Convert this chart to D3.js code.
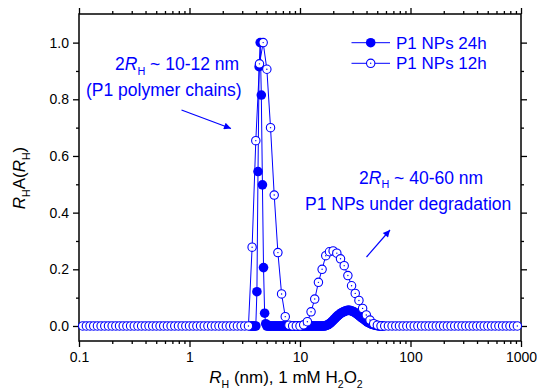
<!DOCTYPE html>
<html>
<head>
<meta charset="utf-8">
<script src="https://cdn.jsdelivr.net/npm/d3@7"></script>
<style>
  html, body { margin: 0; padding: 0; background: #fff; }
  svg { display: block; font-family: "Liberation Sans", Arial, sans-serif; }
</style>
</head>
<body>
<svg id="chart" width="537" height="389"></svg>
<script>
// Hydrodynamic radius bins (nm) and size distributions R_H·A(R_H)

// 12 h sample: 30 bins per decade
const radius12h = [
  0.108, 0.1166, 0.1259, 0.1359, 0.1468, 0.1585, 0.1711, 0.1848, 0.1995, 0.2154,
  0.2326, 0.2512, 0.2712, 0.2929, 0.3162, 0.3415, 0.3687, 0.3981, 0.4299, 0.4642,
  0.5012, 0.5412, 0.5843, 0.631, 0.6813, 0.7356, 0.7943, 0.8577, 0.9261,
  1, 1.08, 1.166, 1.259, 1.359, 1.468, 1.585, 1.711, 1.848, 1.995,
  2.154, 2.326, 2.512, 2.712, 2.929, 3.162, 3.415, 3.687, 3.981, 4.299,
  4.642, 5.012, 5.412, 5.843, 6.31, 6.813, 7.356, 7.943, 8.577, 9.261,
  10, 10.8, 11.66, 12.59, 13.59, 14.68, 15.85, 17.11, 18.48, 19.95,
  21.54, 23.26, 25.12, 27.12, 29.29, 31.62, 34.15, 36.87, 39.81, 42.99,
  46.42, 50.12, 54.12, 58.43, 63.1, 68.13, 73.56, 79.43, 85.77, 92.61,
  100, 108, 116.6, 125.9, 135.9, 146.8, 158.5, 171.1, 184.8, 199.5,
  215.4, 232.6, 251.2, 271.2, 292.9, 316.2, 341.5, 368.7, 398.1, 429.9,
  464.2, 501.2, 541.2, 584.3, 631, 681.3, 735.6, 794.3, 857.7, 926.1
];
const values12h = [
  0, 0, 0, 0, 0, 0, 0, 0, 0, 0,
  0, 0, 0, 0, 0, 0, 0, 0, 0, 0,
  0, 0, 0, 0, 0, 0, 0, 0, 0, 0,
  0, 0, 0, 0, 0, 0, 0, 0, 0, 0,
  0, 0, 0, 0, 0, 0, 0.278, 0.654, 0.925, 1.0,
  0.906, 0.70, 0.462, 0.259, 0.113, 0.033, 0.003, 0, 0, 0,
  0.004, 0.015, 0.05, 0.095, 0.154, 0.20, 0.248, 0.262, 0.265, 0.257,
  0.237, 0.213, 0.178, 0.142, 0.115, 0.09, 0.062, 0.039, 0.021, 0.008,
  0.003, 0, 0, 0, 0, 0, 0, 0, 0, 0,
  0, 0, 0, 0, 0, 0, 0, 0, 0, 0,
  0, 0, 0, 0, 0, 0, 0, 0, 0, 0,
  0, 0, 0, 0, 0, 0, 0, 0, 0
];

// 24 h sample: 100 bins per decade, 3.5 – 56 nm
const radius24h = [
  3.548, 3.631, 3.715, 3.802, 3.890, 3.981, 4.074, 4.169, 4.266, 4.365,
  4.467, 4.571, 4.677, 4.786, 4.898, 5.012, 5.129, 5.248, 5.370, 5.495,
  5.623, 5.754, 5.888, 6.026, 6.166, 6.310, 6.457, 6.607, 6.761, 6.918,
  7.079, 7.244, 7.413, 7.586, 7.762, 7.943, 8.128, 8.318, 8.511, 8.710,
  8.913, 9.120, 9.333, 9.550, 9.772, 10.00, 10.23, 10.47, 10.72, 10.96,
  11.22, 11.48, 11.75, 12.02, 12.30, 12.59, 12.88, 13.18, 13.49, 13.80,
  14.13, 14.45, 14.79, 15.14, 15.49, 15.85, 16.22, 16.60, 16.98, 17.38,
  17.78, 18.20, 18.62, 19.05, 19.50, 19.95, 20.42, 20.89, 21.38, 21.88,
  22.39, 22.91, 23.44, 23.99, 24.55, 25.12, 25.70, 26.30, 26.92, 27.54,
  28.18, 28.84, 29.51, 30.20, 30.90, 31.62, 32.36, 33.11, 33.88, 34.67,
  35.48, 36.31, 37.15, 38.02, 38.90, 39.81, 40.74, 41.69, 42.66, 43.65,
  44.67, 45.71, 46.77, 47.86, 48.98, 50.12, 51.29, 52.48, 53.70, 54.95,
  56.23
];
const values24h = [
  0, 0, 0, 0, 0, 0, 0.121, 0.545, 0.915, 1.0,
  0.815, 0.498, 0.206, 0.045, 0.008, 0, 0, 0, 0, 0,
  0, 0, 0, 0, 0, 0, 0, 0, 0, 0,
  0, 0, 0, 0, 0, 0, 0, 0, 0, 0,
  0, 0, 0, 0, 0, 0, 0, 0, 0, 0,
  0, 0, 0, 0, 0, 0, 0, 0, 0, 0,
  0, 0, 0, 0, 0, 0, 0, 0, 0.001, 0.002,
  0.004, 0.006, 0.009, 0.012, 0.016, 0.020, 0.024, 0.028, 0.032, 0.036,
  0.039, 0.042, 0.045, 0.047, 0.049, 0.051, 0.053, 0.054, 0.055, 0.055,
  0.055, 0.054, 0.053, 0.051, 0.049, 0.047, 0.044, 0.041, 0.038, 0.035,
  0.032, 0.029, 0.026, 0.023, 0.020, 0.017, 0.014, 0.012, 0.010, 0.008,
  0.006, 0.005, 0.004, 0.003, 0.002, 0.001, 0.001, 0, 0, 0,
  0
];

const seriesNames = ["P1 NPs 24h", "P1 NPs 12h"];
const xTickValues = [0.1, 1, 10, 100, 1000];
const xTickLabels = ["0.1", "1", "10", "100", "1000"];
const yTickValues = [0.0, 0.2, 0.4, 0.6, 0.8, 1.0];
const yTickLabels = ["0.0", "0.2", "0.4", "0.6", "0.8", "1.0"];
const yMinorValues = [0.1, 0.3, 0.5, 0.7, 0.9];

const BLUE = "#0000ff";
const svg = d3.select("#chart");
const plotLeft = 79, plotRight = 521, plotTop = 14, plotBottom = 341;

const x = d3.scaleLog().domain([0.1, 1000]).range([plotLeft, plotRight]);
const y = d3.scaleLinear().domain([-0.053, 1.101]).range([plotBottom, plotTop]);

// minor log ticks 2..9 in each decade
const xMinorValues = [];
[0.1, 1, 10, 100].forEach(d => { for (let m = 2; m <= 9; m++) xMinorValues.push(+(d * m).toPrecision(3)); });

// ---- axes (mirrored, ticks outward on every side)
function drawAxis(axisGen, tx, ty, cls) {
  const g = svg.append("g").attr("class", cls).attr("transform", `translate(${tx},${ty})`).call(axisGen);
  g.select(".domain").remove();
  g.selectAll("line").attr("stroke", "#000").attr("stroke-width", 1.3);
  g.selectAll("text").attr("fill", "#000").attr("font-size", 14)
    .attr("font-family", "'Liberation Sans', Arial, sans-serif");
  return g;
}
drawAxis(d3.axisBottom(x).tickValues(xTickValues).tickFormat((d, i) => xTickLabels[i]).tickSize(6).tickPadding(5), 0, plotBottom, "xb");
drawAxis(d3.axisBottom(x).tickValues(xMinorValues).tickFormat("").tickSize(3), 0, plotBottom, "xbm");
drawAxis(d3.axisTop(x).tickValues(xTickValues).tickFormat("").tickSize(6), 0, plotTop, "xt");
drawAxis(d3.axisTop(x).tickValues(xMinorValues).tickFormat("").tickSize(3), 0, plotTop, "xtm");
drawAxis(d3.axisLeft(y).tickValues(yTickValues).tickFormat((d, i) => yTickLabels[i]).tickSize(6).tickPadding(4), plotLeft, 0, "yl");
drawAxis(d3.axisLeft(y).tickValues(yMinorValues).tickFormat("").tickSize(3), plotLeft, 0, "ylm");
drawAxis(d3.axisRight(y).tickValues(yTickValues).tickFormat("").tickSize(6), plotRight, 0, "yr");
drawAxis(d3.axisRight(y).tickValues(yMinorValues).tickFormat("").tickSize(3), plotRight, 0, "yrm");

svg.append("rect")
  .attr("x", plotLeft).attr("y", plotTop)
  .attr("width", plotRight - plotLeft).attr("height", plotBottom - plotTop)
  .attr("fill", "none").attr("stroke", "#000").attr("stroke-width", 1.5);

// ---- data
const data24 = radius24h.map((r, i) => ({ r, v: values24h[i] }));
const data12 = radius12h.map((r, i) => ({ r, v: values12h[i] }));
const line = d3.line().x(d => x(d.r)).y(d => y(d.v));

const plot = svg.append("g");
plot.append("path").datum(data24).attr("d", line)
  .attr("fill", "none").attr("stroke", BLUE).attr("stroke-width", 1);
plot.append("g").selectAll("circle").data(data24).join("circle")
  .attr("cx", d => x(d.r)).attr("cy", d => y(d.v)).attr("r", 4.8)
  .attr("fill", BLUE);

plot.append("path").datum(data12).attr("d", line)
  .attr("fill", "none").attr("stroke", BLUE).attr("stroke-width", 1);
const open = plot.append("g").selectAll("g").data(data12).join("g")
  .attr("transform", d => `translate(${x(d.r)},${y(d.v)})`);
open.append("circle").attr("r", 4.2).attr("fill", "#fff").attr("stroke", BLUE).attr("stroke-width", 1.1);
open.append("circle").attr("r", 0.7).attr("fill", BLUE);

// ---- rich text helper: parts of {t, i (italic), sub}
function richText(g, parts, size) {
  const t = g.append("text").attr("font-size", size);
  let shifted = false;
  parts.forEach(p => {
    const s = t.append("tspan").text(p.t);
    if (p.i) s.attr("font-style", "italic");
    if (p.sub) {
      s.attr("font-size", size * 0.62);
      if (!shifted) { s.attr("dy", size * 0.28); shifted = true; }
    } else if (shifted) {
      s.attr("dy", -size * 0.28); shifted = false;
    }
  });
  return t;
}

// axis titles
richText(svg.append("g").attr("transform", "translate(286,383)"),
  [{ t: "R", i: true }, { t: "H", sub: true }, { t: " (nm), 1 mM H" }, { t: "2", sub: true }, { t: "O" }, { t: "2", sub: true }], 17)
  .attr("text-anchor", "middle").attr("fill", "#000");

richText(svg.append("g").attr("transform", "translate(25,178) rotate(-90)"),
  [{ t: "R", i: true }, { t: "H", sub: true }, { t: "A(" }, { t: "R", i: true }, { t: "H", sub: true }, { t: ")" }], 17)
  .attr("text-anchor", "middle").attr("fill", "#000");

// ---- legend
const legend = svg.append("g");
seriesNames.forEach((name, i) => {
  const ly = 42.7 + i * 20.6;
  legend.append("line").attr("x1", 351.5).attr("x2", 390).attr("y1", ly).attr("y2", ly)
    .attr("stroke", BLUE).attr("stroke-width", 1);
  if (i === 0) {
    legend.append("circle").attr("cx", 370.7).attr("cy", ly).attr("r", 4.8).attr("fill", BLUE);
  } else {
    legend.append("circle").attr("cx", 370.7).attr("cy", ly).attr("r", 4.2)
      .attr("fill", "#fff").attr("stroke", BLUE).attr("stroke-width", 1.1);
    legend.append("circle").attr("cx", 370.7).attr("cy", ly).attr("r", 0.7).attr("fill", BLUE);
  }
  legend.append("text").attr("x", 396).attr("y", ly + 6).attr("font-size", 17)
    .attr("fill", BLUE).text(name);
});

// ---- annotations
const defs = svg.append("defs");
defs.append("marker").attr("id", "arrow").attr("viewBox", "0 0 10 10")
  .attr("refX", 10).attr("refY", 5).attr("markerWidth", 9).attr("markerHeight", 7)
  .attr("markerUnits", "userSpaceOnUse").attr("orient", "auto")
  .append("path").attr("d", "M0,0 L10,5 L0,10 Z").attr("fill", BLUE);

richText(svg.append("g").attr("transform", "translate(115,70)"),
  [{ t: "2" }, { t: "R", i: true }, { t: "H", sub: true }, { t: " ~ 10-12 nm" }], 17.5).attr("fill", BLUE);
svg.append("text").attr("x", 86).attr("y", 96).attr("font-size", 17.5).attr("fill", BLUE)
  .text("(P1 polymer chains)");
svg.append("line").attr("x1", 181.5).attr("y1", 110).attr("x2", 231).attr("y2", 128.5)
  .attr("stroke", BLUE).attr("stroke-width", 1.2).attr("marker-end", "url(#arrow)");

richText(svg.append("g").attr("transform", "translate(359,183.5)"),
  [{ t: "2" }, { t: "R", i: true }, { t: "H", sub: true }, { t: " ~ 40-60 nm" }], 17.5).attr("fill", BLUE);
svg.append("text").attr("x", 305).attr("y", 210).attr("font-size", 17.5).attr("fill", BLUE)
  .text("P1 NPs under degradation");
svg.append("line").attr("x1", 366.5).attr("y1", 257).attr("x2", 390).attr("y2", 230)
  .attr("stroke", BLUE).attr("stroke-width", 1.2).attr("marker-end", "url(#arrow)");
</script>
</body>
</html>
